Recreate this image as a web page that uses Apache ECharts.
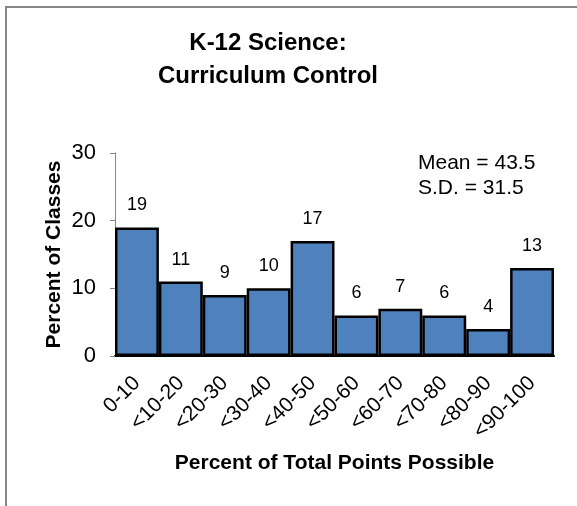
<!DOCTYPE html>
<html lang="en">
<head>
    <meta charset="UTF-8">
    <title>K-12 Science: Curriculum Control</title>
    <script src="https://cdn.jsdelivr.net/npm/echarts@6/dist/echarts.min.js"></script>
    <style>
        html, body { margin: 0; padding: 0; background: #fff; }
        #chart { width: 577px; height: 506px; }
    </style>
</head>
<body>
    <div id="chart"></div>

    <script>
        var bins = ['0-10', '<10-20', '<20-30', '<30-40', '<40-50', '<50-60', '<60-70', '<70-80', '<80-90', '<90-100'];
        var percentOfClasses = [19, 11, 9, 10, 17, 6, 7, 6, 4, 13];
        var yTicks = [0, 10, 20, 30];
        var titleLines = ['K-12 Science:', 'Curriculum Control'];
        var statLines = ['Mean = 43.5', 'S.D. = 31.5'];

        var font = 'Arial, "Liberation Sans", sans-serif';
        var myChart = echarts.init(document.getElementById('chart'));

        var option = {
            animation: false,
            backgroundColor: '#fff',
            grid: { left: 115, right: 23, top: 153, bottom: 150 },
            graphic: [
                { type: 'rect', shape: { x: 6, y: 7, width: 700, height: 700 },
                  style: { fill: 'none', stroke: '#868686', lineWidth: 2 }, silent: true },
                { type: 'text', x: 268, y: 31, style: { text: titleLines[0], font: 'bold 24px ' + font, fill: '#000', textAlign: 'center', textVerticalAlign: 'top' } },
                { type: 'text', x: 268, y: 64, style: { text: titleLines[1], font: 'bold 24px ' + font, fill: '#000', textAlign: 'center', textVerticalAlign: 'top' } },
                { type: 'text', x: 418, y: 153, style: { text: statLines[0], font: '21px ' + font, fill: '#000', textVerticalAlign: 'top' } },
                { type: 'text', x: 418, y: 178, style: { text: statLines[1], font: '21px ' + font, fill: '#000', textVerticalAlign: 'top' } }
            ],
            xAxis: {
                type: 'category',
                data: bins,
                name: 'Percent of Total Points Possible',
                nameLocation: 'middle',
                nameGap: 97,
                nameMoveOverlap: false,
                nameTextStyle: { fontFamily: font, fontSize: 21, fontWeight: 'bold', color: '#000' },
                axisLine: { show: true, lineStyle: { color: '#000', width: 2 } },
                axisTick: { show: false },
                axisLabel: { rotate: 45, interval: 0, margin: 24, fontFamily: font, fontSize: 21, color: '#000' }
            },
            yAxis: {
                type: 'value',
                min: yTicks[0],
                max: yTicks[yTicks.length - 1],
                interval: 10,
                name: 'Percent of Classes',
                nameLocation: 'middle',
                nameGap: 50,
                nameMoveOverlap: false,
                nameTextStyle: { fontFamily: font, fontSize: 21, fontWeight: 'bold', color: '#000' },
                axisLine: { show: true, lineStyle: { color: '#868686', width: 1 } },
                axisTick: { show: true, length: 5, lineStyle: { color: '#868686' } },
                axisLabel: { margin: 19, fontFamily: font, fontSize: 22, color: '#000' },
                splitLine: { show: false }
            },
            series: [{
                type: 'bar',
                data: percentOfClasses,
                barCategoryGap: '0%',
                itemStyle: { color: '#4F81BD', borderColor: '#000', borderWidth: 2.5 },
                label: { show: true, position: 'top', distance: 13, fontFamily: font, fontSize: 18, color: '#000' }
            }]
        };
        myChart.setOption(option);
    </script>
</body>
</html>
